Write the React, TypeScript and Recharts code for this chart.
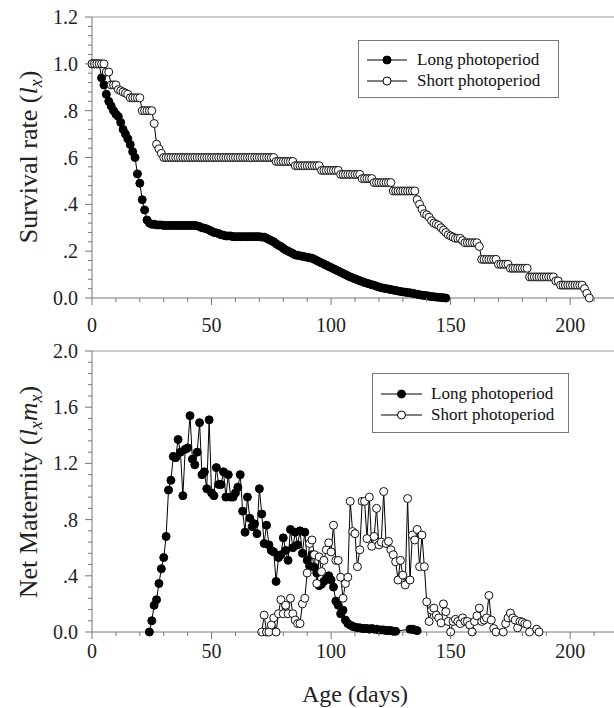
import React from 'react'
import { LineChart, Line, XAxis, YAxis, ReferenceLine, Legend, Label } from 'recharts'

const LONG = 'Long photoperiod'
const SHORT = 'Short photoperiod'

const AXIS = '#777'
const FONT = 'Liberation Serif'

// survival (lx), one value per day starting at day 0
const longSurvival = [
  1, 1, 1, 1, 0.94, 0.91, 0.87, 0.84, 0.82, 0.8,
  0.785, 0.775, 0.75, 0.72, 0.7, 0.68, 0.655, 0.625, 0.6, 0.53,
  0.49, 0.42, 0.376, 0.333, 0.32, 0.315, 0.315, 0.312, 0.312, 0.312,
  0.31, 0.31, 0.31, 0.31, 0.31, 0.31, 0.31, 0.31, 0.31, 0.31,
  0.31, 0.31, 0.31, 0.31, 0.308, 0.305, 0.3, 0.298, 0.295, 0.29,
  0.285, 0.28, 0.278, 0.275, 0.27, 0.268, 0.265, 0.265, 0.265, 0.262,
  0.262, 0.262, 0.262, 0.262, 0.262, 0.262, 0.262, 0.262, 0.262, 0.262,
  0.262, 0.26, 0.26, 0.255, 0.25, 0.245, 0.24, 0.232, 0.225, 0.22,
  0.212, 0.205, 0.2, 0.195, 0.19, 0.184, 0.182, 0.18, 0.178, 0.176,
  0.174, 0.172, 0.17, 0.165, 0.16, 0.155, 0.15, 0.145, 0.14, 0.135,
  0.13, 0.125, 0.12, 0.115, 0.11, 0.105, 0.1, 0.095, 0.09, 0.086,
  0.082, 0.078, 0.074, 0.07, 0.066, 0.063, 0.06, 0.057, 0.054, 0.05,
  0.047, 0.044, 0.042, 0.04, 0.038, 0.036, 0.034, 0.032, 0.03, 0.028,
  0.026, 0.025, 0.023, 0.022, 0.02, 0.018, 0.016, 0.014, 0.012, 0.011,
  0.01, 0.008, 0.006, 0.005, 0.004, 0.003, 0.002, 0.001, 0,
]

const shortSurvival = [
  1, 1, 1, 1, 1, 1, 0.965, 0.965, 0.91, 0.91,
  0.91, 0.89, 0.885, 0.88, 0.875, 0.87, 0.855, 0.855, 0.855, 0.855,
  0.855, 0.8, 0.8, 0.8, 0.8, 0.8, 0.745, 0.657, 0.637, 0.618,
  0.6, 0.6, 0.6, 0.6, 0.6, 0.6, 0.6, 0.6, 0.6, 0.6,
  0.6, 0.6, 0.6, 0.6, 0.6, 0.6, 0.6, 0.6, 0.6, 0.6,
  0.6, 0.6, 0.6, 0.6, 0.6, 0.6, 0.6, 0.6, 0.6, 0.6,
  0.6, 0.6, 0.6, 0.6, 0.6, 0.6, 0.6, 0.6, 0.6, 0.6,
  0.6, 0.6, 0.6, 0.6, 0.6, 0.6, 0.6, 0.583, 0.583, 0.583,
  0.583, 0.583, 0.583, 0.583, 0.583, 0.565, 0.565, 0.565, 0.565, 0.565,
  0.565, 0.565, 0.565, 0.565, 0.565, 0.565, 0.545, 0.545, 0.545, 0.545,
  0.545, 0.545, 0.545, 0.545, 0.528, 0.528, 0.528, 0.528, 0.528, 0.528,
  0.528, 0.528, 0.528, 0.51, 0.51, 0.51, 0.51, 0.51, 0.493, 0.493,
  0.493, 0.493, 0.493, 0.493, 0.493, 0.493, 0.457, 0.457, 0.457, 0.457,
  0.457, 0.457, 0.457, 0.457, 0.457, 0.457, 0.42, 0.4, 0.38, 0.36,
  0.355, 0.345, 0.33, 0.32, 0.315, 0.31, 0.3, 0.29, 0.28, 0.27,
  0.265, 0.26, 0.255, 0.255, 0.255, 0.245, 0.236, 0.236, 0.236, 0.236,
  0.236, 0.236, 0.22, 0.165, 0.165, 0.165, 0.165, 0.165, 0.165, 0.165,
  0.144, 0.144, 0.144, 0.144, 0.144, 0.127, 0.127, 0.127, 0.127, 0.127,
  0.127, 0.127, 0.127, 0.09, 0.09, 0.09, 0.09, 0.09, 0.09, 0.09,
  0.09, 0.09, 0.09, 0.09, 0.073, 0.073, 0.055, 0.055, 0.055, 0.055,
  0.055, 0.055, 0.055, 0.055, 0.055, 0.055, 0.04, 0.02, 0,
]

// net maternity (lxmx), one value per day
const longMaternityStart = 24
const longMaternity = [
  0, 0.08, 0.19, 0.23, 0.345, 0.45, 0.53, 0.68, 1.01, 1.08,
  1.25, 1.24, 1.37, 1.28, 0.97, 1.3, 1.31, 1.54, 1.23, 1.19,
  1.28, 1.49, 1.12, 1.14, 1.02, 1.51, 0.99, 0.97, 1.17, 1.05,
  1.05, 1.14, 0.96, 1.12, 0.96, 0.96, 0.99, 1.03, 1.12, 0.86,
  0.71, 0.96, 0.81, 0.75, 0.77, 0.7, 1.02, 0.84, 0.63, 0.76,
  0.62, 0.58, 0.57, 0.36, 0.53, 0.55, 0.67, 0.58, 0.51, 0.73,
  0.6, 0.71, 0.62, 0.72, 0.56, 0.71, 0.51, 0.47, 0.55, 0.46,
  0.42, 0.33, 0.34, 0.36, 0.38, 0.4, 0.37, 0.32, 0.22, 0.19,
  0.13, 0.155, 0.085, 0.06, 0.05, 0.04, 0.035, 0.03, 0.03, 0.025,
  0.025, 0.025, 0.02, 0.025, 0.02, 0.02, 0.015, 0.015, 0.015, 0.01,
  0.01, 0.01, 0.005, 0.005, null, null, null, null, null, 0.02,
  0.02, 0.015, 0.01,
]

const shortMaternityStart = 71
const shortMaternity = [
  0, 0.12, 0, 0, 0.05, 0.1, 0, 0.13, 0.23, 0.13,
  0.19, 0.13, 0.24, 0.13, 0.085, 0.06, 0.06, 0.2, 0.24, 0.42,
  0.63, 0.655, 0.55, 0.345, 0.535, 0.43, 0.51, 0.585, 0.635, 0.57,
  0.76, 0.51, 0.51, 0.39, 0.24, 0.345, 0.39, 0.93, 0.715, 0.7,
  0.465, 0.585, 0.93, 0.93, 0.665, 0.96, 0.61, 0.68, 0.88, 0.62,
  0.64, 1.0, 0.63, 0.645, 0.585, 0.55, 0.5, 0.37, 0.51, 0.405,
  0.335, 0.95, 0.37, 0.69, 0.655, 0.73, 0.465, 0.69, 0.465, 0.215,
  0.075, 0.155, 0.17, 0.12, 0.1, 0.065, 0.2, 0.145, 0.075, 0,
  0.075, 0.09, 0.075, 0.06, 0.1, 0.075, 0.075, 0.05, 0, 0.075,
  0.115, 0.17, 0.075, 0.085, 0.1, 0.26, 0.085, 0.025, 0, null,
  null, 0, 0.06, 0.1, 0.135, 0.1, 0.085, 0.03, 0.075, 0.07,
  0.06, 0.055, 0, null, null, 0.02, 0,
]

const X_TICKS = [0, 10, 20, 30, 40, 50, 60, 70, 80, 90, 100, 110, 120, 130, 140, 150, 160, 170, 180, 190, 200, 210, 220]
const X_MAJOR = [0, 50, 100, 150, 200]

const SURV_MAJOR = [0, 0.2, 0.4, 0.6, 0.8, 1.0, 1.2]
const SURV_LABELS = ['0.0', '.2', '.4', '.6', '.8', '1.0', '1.2']
const MAT_MAJOR = [0, 0.4, 0.8, 1.2, 1.6, 2.0]
const MAT_LABELS = ['0.0', '.4', '.8', '1.2', '1.6', '2.0']

const minorTicks = (max: number, step: number) =>
  Array.from({ length: Math.round(max / step) + 1 }, (_, i) => Math.round(i * step * 1000) / 1000)

const rows = (start: number, values: (number | null)[]) =>
  values.map((v, i) => ({ day: start + i, value: v }))

const longSurvRows = rows(0, longSurvival)
const shortSurvRows = rows(0, shortSurvival)
const longMatRows = rows(longMaternityStart, longMaternity)
const shortMatRows = rows(shortMaternityStart, shortMaternity)

function XTick({ x, y, payload, labelDy }: any) {
  const v = payload.value
  const major = X_MAJOR.includes(v)
  return (
    <g>
      <line x1={x} x2={x} y1={y} y2={y + (major ? 7 : 4)} stroke={AXIS} />
      {major && (
        <text x={x} y={y + labelDy} textAnchor="middle" fontSize={20} fill="#222" fontFamily={FONT}>
          {v}
        </text>
      )}
    </g>
  )
}

function YTick({ x, y, payload, major, labels }: any) {
  const idx = major.findIndex((m: number) => Math.abs(m - payload.value) < 1e-6)
  const isMajor = idx >= 0
  return (
    <g>
      <line x1={x} x2={x - (isMajor ? 7 : 4)} y1={y} y2={y} stroke={AXIS} />
      {isMajor && (
        <text x={x - 14} y={y + 7} textAnchor="end" fontSize={20} fill="#222" fontFamily={FONT}>
          {labels[idx]}
        </text>
      )}
    </g>
  )
}

function PhotoLegend({ payload = [], rowY, lineX, lineW, textX }: any) {
  return (
    <div
      style={{
        position: 'relative',
        width: '100%',
        height: '100%',
        boxSizing: 'border-box',
        border: '1px solid #777',
        background: '#fff',
        fontFamily: FONT,
      }}
    >
      {payload.map((e: any, i: number) => (
        <div key={e.value} style={{ position: 'absolute', left: 0, top: rowY[i] - 10, height: 20, width: '100%' }}>
          <svg width={lineW + 2} height={20} style={{ position: 'absolute', left: lineX - 1, top: 0 }}>
            <line x1={1} x2={lineW + 1} y1={10} y2={10} stroke="#000" />
            <circle cx={lineW / 2 + 1} cy={10} r={4} fill={e.value === LONG ? '#000' : '#fff'} stroke="#000" />
          </svg>
          <span
            style={{
              position: 'absolute',
              left: textX,
              top: 0,
              lineHeight: '20px',
              fontSize: 17,
              whiteSpace: 'nowrap',
              color: '#111',
              fontFamily: FONT,
            }}
          >
            {e.value}
          </span>
        </div>
      ))}
    </div>
  )
}

const filledDot = { r: 4, fill: '#000', stroke: '#000', strokeWidth: 1 }
const openDot = { r: 4, fill: '#fff', stroke: '#111', strokeWidth: 1 }

export default function App() {
  return (
    <div
      style={{
        position: 'absolute',
        left: 0,
        top: 0,
        width: 614,
        height: 708,
        overflow: 'hidden',
        background: '#fff',
        fontFamily: FONT,
      }}
    >
      <div style={{ position: 'absolute', left: 0, top: 0 }}>
        <LineChart width={640} height={340} margin={{ top: 17, right: 22, bottom: 0, left: 0 }}>
          <XAxis
            type="number"
            dataKey="day"
            domain={[0, 220]}
            ticks={X_TICKS}
            interval={0}
            tick={<XTick labelDy={34} />}
            tickLine={false}
            tickSize={0}
            tickMargin={0}
            axisLine={{ stroke: AXIS }}
            height={42}
            allowDuplicatedCategory={false}
          />
          <YAxis
            type="number"
            domain={[0, 1.2]}
            ticks={minorTicks(1.2, 0.04)}
            interval={0}
            tick={<YTick major={SURV_MAJOR} labels={SURV_LABELS} />}
            tickLine={false}
            tickSize={0}
            tickMargin={0}
            axisLine={{ stroke: AXIS }}
            width={92}
          >
            <Label
              content={() => (
                <text
                  x={37}
                  y={157}
                  transform="rotate(-90 37 157)"
                  textAnchor="middle"
                  fontSize={26}
                  fill="#222"
                  fontFamily={FONT}
                >
                  Survival rate (<tspan fontStyle="italic">l</tspan>
                  <tspan fontStyle="italic" fontSize={18} dy={5}>x</tspan>
                  <tspan dy={-5}>)</tspan>
                </text>
              )}
            />
          </YAxis>
          <ReferenceLine y={1.2} stroke="#9a9a9a" />
          <Legend
            layout="vertical"
            align="center"
            verticalAlign="middle"
            wrapperStyle={{ left: 358, top: 40, width: 201, height: 58 }}
            content={<PhotoLegend rowY={[19, 40]} lineX={8} lineW={40} textX={58} />}
          />
          <Line
            data={longSurvRows}
            dataKey="value"
            name={LONG}
            type="linear"
            stroke="#000"
            strokeWidth={1}
            dot={filledDot}
            activeDot={false}
            isAnimationActive={false}
          />
          <Line
            data={shortSurvRows}
            dataKey="value"
            name={SHORT}
            type="linear"
            stroke="#000"
            strokeWidth={1}
            dot={openDot}
            activeDot={false}
            isAnimationActive={false}
          />
        </LineChart>
      </div>

      <div style={{ position: 'absolute', left: 0, top: 340 }}>
        <LineChart width={640} height={368} margin={{ top: 11, right: 22, bottom: 0, left: 0 }}>
          <XAxis
            type="number"
            dataKey="day"
            domain={[0, 220]}
            ticks={X_TICKS}
            interval={0}
            tick={<XTick labelDy={26} />}
            tickLine={false}
            tickSize={0}
            tickMargin={0}
            axisLine={{ stroke: AXIS }}
            height={76}
            allowDuplicatedCategory={false}
          >
            <Label
              content={() => (
                <text x={355} y={362} textAnchor="middle" fontSize={24} fill="#222" fontFamily={FONT}>
                  Age (days)
                </text>
              )}
            />
          </XAxis>
          <YAxis
            type="number"
            domain={[0, 2]}
            ticks={minorTicks(2, 0.08)}
            interval={0}
            tick={<YTick major={MAT_MAJOR} labels={MAT_LABELS} />}
            tickLine={false}
            tickSize={0}
            tickMargin={0}
            axisLine={{ stroke: AXIS }}
            width={92}
          >
            <Label
              content={() => (
                <text
                  x={37}
                  y={152}
                  transform="rotate(-90 37 152)"
                  textAnchor="middle"
                  fontSize={26}
                  fill="#222"
                  fontFamily={FONT}
                >
                  Net Maternity (<tspan fontStyle="italic">l</tspan>
                  <tspan fontStyle="italic" fontSize={18} dy={5}>x</tspan>
                  <tspan fontStyle="italic" dy={-5}>m</tspan>
                  <tspan fontStyle="italic" fontSize={18} dy={5}>x</tspan>
                  <tspan dy={-5}>)</tspan>
                </text>
              )}
            />
          </YAxis>
          <ReferenceLine y={2} stroke="#9a9a9a" />
          <Legend
            layout="vertical"
            align="center"
            verticalAlign="middle"
            wrapperStyle={{ left: 372, top: 33, width: 197, height: 60 }}
            content={<PhotoLegend rowY={[20, 41]} lineX={8} lineW={41} textX={58} />}
          />
          <Line
            data={longMatRows}
            dataKey="value"
            name={LONG}
            type="linear"
            stroke="#000"
            strokeWidth={1}
            dot={filledDot}
            activeDot={false}
            connectNulls
            isAnimationActive={false}
          />
          <Line
            data={shortMatRows}
            dataKey="value"
            name={SHORT}
            type="linear"
            stroke="#000"
            strokeWidth={1}
            dot={openDot}
            activeDot={false}
            connectNulls
            isAnimationActive={false}
          />
        </LineChart>
      </div>
    </div>
  )
}
